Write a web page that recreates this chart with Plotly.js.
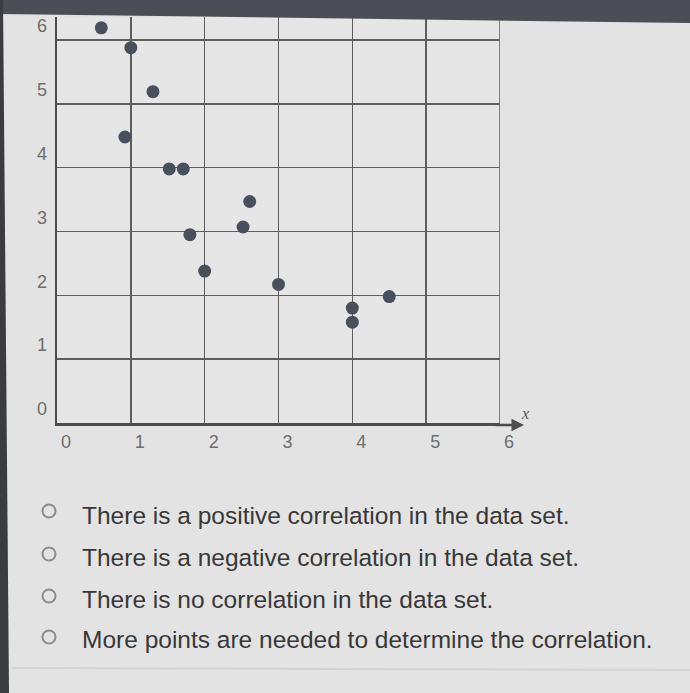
<!DOCTYPE html>
<html>
<head>
<meta charset="utf-8">
<script src="https://cdn.plot.ly/plotly-3.0.1.min.js"></script>
<style>
html,body{margin:0;padding:0;background:#e3e3e3;}
#chart{width:690px;height:693px;}
</style>
</head>
<body>
<div id="chart"></div>
<script>
// ---- data ----
const xValues = [0.6, 1.0, 1.3, 0.92, 1.52, 1.71, 2.61, 2.52, 1.8, 2.0, 3.0, 4.5, 4.0, 4.0];
const yValues = [6.19, 5.88, 5.19, 4.48, 3.98, 3.98, 3.47, 3.07, 2.95, 2.38, 2.17, 1.98, 1.8, 1.58];
const xTicks = [0, 1, 2, 3, 4, 5, 6];
const yTicks = [0, 1, 2, 3, 4, 5, 6];
const answerOptions = [
  "There is a positive correlation in the data set.",
  "There is a negative correlation in the data set.",
  "There is no correlation in the data set.",
  "More points are needed to determine the correlation."
];

// ---- layout helpers (pixel -> paper) ----
const L = 57, T = 17, W = 443, H = 406;
const px = v => (v - L) / W;
const py = v => (T + H - v) / H;

const shapes = [];
const annotations = [];

// answer option radio rings and texts
const ringY = [511, 554, 596, 637];
const textY = [515, 557, 599, 640];
answerOptions.forEach((t, i) => {
  shapes.push({
    type: 'circle', xref: 'paper', yref: 'paper',
    xsizemode: 'pixel', ysizemode: 'pixel',
    xanchor: px(49), yanchor: py(ringY[i]),
    x0: -6.5, x1: 6.5, y0: -6.5, y1: 6.5,
    line: {color: '#8c8c8c', width: 2}, fillcolor: 'rgba(0,0,0,0)'
  });
  annotations.push({
    text: t, xref: 'paper', yref: 'paper',
    x: px(80), y: py(textY[i]), xanchor: 'left', yanchor: 'middle',
    showarrow: false,
    font: {family: 'Liberation Sans, Arial, sans-serif', size: 24.5, color: '#383838'}
  });
});

// right border of the grid at x = 6
shapes.push({
  type: 'line', xref: 'x', yref: 'paper', layer: 'below',
  x0: xTicks[xTicks.length - 1], x1: xTicks[xTicks.length - 1], y0: 0, y1: 1,
  line: {color: '#5e5e5e', width: 1.5}
});

// dark screen bezel at top and left edge (photo)
shapes.push({
  type: 'path', xref: 'paper', yref: 'paper', layer: 'above',
  path: `M ${px(0)} ${py(0)} L ${px(690)} ${py(0)} L ${px(690)} ${py(23)} L ${px(0)} ${py(14)} Z`,
  fillcolor: '#4b4f55', line: {width: 0}
});
shapes.push({
  type: 'path', xref: 'paper', yref: 'paper', layer: 'above',
  path: `M ${px(0)} ${py(0)} L ${px(3)} ${py(0)} L ${px(9)} ${py(693)} L ${px(0)} ${py(693)} Z`,
  fillcolor: '#3a3c40', line: {width: 0}
});
// faint separator line under the options
shapes.push({
  type: 'line', xref: 'paper', yref: 'paper', layer: 'below',
  x0: px(12), x1: px(690), y0: py(668), y1: py(670),
  line: {color: '#d2d2d2', width: 2}
});

// x axis arrow and italic x label
annotations.push({
  xref: 'paper', yref: 'paper', x: px(524), y: py(425),
  ax: -30, ay: 0, text: '', showarrow: true,
  arrowhead: 2, arrowsize: 1, arrowwidth: 2.5, arrowcolor: '#4d4d4d'
});
annotations.push({
  xref: 'paper', yref: 'paper', x: px(525), y: py(413),
  text: '<i>x</i>', showarrow: false, xanchor: 'center', yanchor: 'middle',
  font: {family: 'Liberation Serif, serif', size: 16, color: '#555'}
});

const trace = {
  type: 'scatter', mode: 'markers',
  x: xValues, y: yValues,
  marker: {size: 13, color: '#4a4f5c'},
  cliponaxis: false,
  hoverinfo: 'x+y'
};

const layout = {
  width: 690, height: 693,
  margin: {l: L, r: 690 - L - W, t: T, b: 693 - T - H},
  paper_bgcolor: '#e3e3e3',
  plot_bgcolor: '#e6e6e6',
  showlegend: false,
  font: {family: 'Liberation Sans, Arial, sans-serif'},
  xaxis: {
    range: [0, 6], tickvals: xTicks, ticktext: xTicks.map(String),
    showgrid: true, gridcolor: '#5e5e5e', gridwidth: 1.5,
    zeroline: false, showline: true, linecolor: '#4d4d4d', linewidth: 2.5,
    ticks: '', ticklabelshift: 9, ticklabelstandoff: 1,
    tickfont: {size: 18, color: '#6e6e6e'}, fixedrange: true
  },
  yaxis: {
    range: [0, 6.36], tickvals: yTicks, ticktext: yTicks.map(String),
    showgrid: true, gridcolor: '#5e5e5e', gridwidth: 1.5,
    zeroline: false, showline: true, linecolor: '#4d4d4d', linewidth: 2.5,
    ticks: '', ticklabelshift: -14, ticklabelstandoff: 4,
    tickfont: {size: 18, color: '#6e6e6e'}, fixedrange: true
  },
  shapes: shapes,
  annotations: annotations
};

Plotly.newPlot('chart', [trace], layout, {displayModeBar: false, staticPlot: true});
</script>
</body>
</html>
